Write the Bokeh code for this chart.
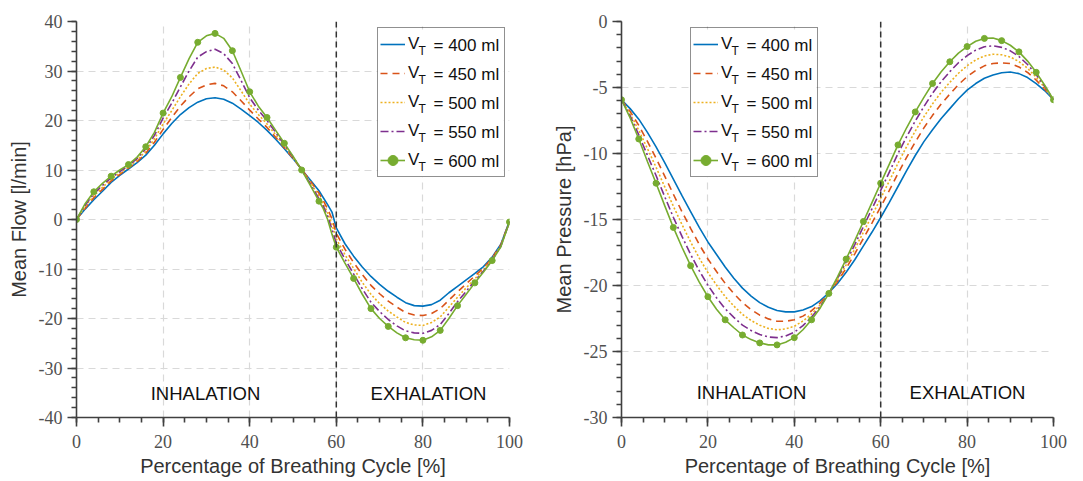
from bokeh.plotting import figure
from bokeh.layouts import row
from bokeh.models import (Range1d, SingleIntervalTicker, Span, Label, Legend,
                          LegendItem, ColumnDataSource, CDSView, IndexFilter,
                          PrintfTickFormatter, BoxAnnotation)
from bokeh.embed import file_html
from bokeh.resources import INLINE

# ---------------- data ----------------
volumes = ["400", "450", "500", "550", "600"]
phase_labels = ["INHALATION", "EXHALATION"]

cycle_flow = list(range(0, 57, 2)) + [57, 58, 59] + list(range(60, 101, 2))

flow_400 = [0, 2.1, 4.0, 5.7, 7.5, 8.9, 10.2, 11.5, 13.0, 15.0, 17.3, 19.4, 21.2, 22.6, 23.7,
            24.4, 24.6, 24.3, 23.5, 22.3, 21.0, 19.6, 18.0, 16.2, 14.3, 12.3, 10.1, 8.0, 5.8,
            4.4, 3.0, 1.5,
            -1.7, -4.9, -7.4, -9.6, -11.5, -13.1, -14.5, -15.7, -16.8, -17.4, -17.5, -17.2,
            -16.3, -14.8, -13.5, -12.2, -10.9, -9.5, -7.6, -5.0, -0.3]
flow_450 = [0, 2.3, 4.4, 6.1, 7.8, 9.1, 10.4, 11.7, 13.4, 15.6, 18.2, 20.6, 22.9, 24.8, 26.4,
            27.2, 27.5, 27.0, 25.8, 24.0, 22.1, 20.3, 18.6, 16.6, 14.5, 12.4, 10.1, 7.8, 5.3,
            3.8, 2.1, 0.15,
            -2.8, -6.0, -8.7, -11.1, -13.3, -15.0, -16.5, -17.7, -18.8, -19.3, -19.4, -19.0,
            -18.0, -16.3, -14.6, -13.0, -11.4, -9.8, -7.8, -5.1, -0.36]
flow_500 = [0, 2.6, 4.8, 6.5, 8.1, 9.4, 10.6, 12.0, 13.8, 16.3, 19.3, 22.0, 24.8, 27.4, 29.5,
            30.5, 30.8, 30.2, 28.6, 26.0, 23.3, 21.2, 19.3, 17.1, 14.8, 12.5, 10.05, 7.5, 4.8,
            3.2, 1.35, -1.0,
            -3.9, -7.1, -9.9, -12.7, -15.1, -17.0, -18.5, -19.7, -20.8, -21.3, -21.4, -20.8,
            -19.7, -17.7, -15.7, -13.8, -12.0, -10.1, -8.0, -5.3, -0.41]
flow_550 = [0, 2.9, 5.2, 6.9, 8.4, 9.7, 10.9, 12.3, 14.3, 17.0, 20.5, 23.5, 26.8, 30.0, 32.8,
            33.9, 34.4, 33.5, 31.5, 28.1, 24.6, 22.1, 20.0, 17.6, 15.1, 12.7, 10.0, 7.2, 4.2,
            2.7, 0.7, -2.0,
            -4.8, -8.0, -11.0, -14.0, -16.7, -18.6, -20.2, -21.5, -22.5, -22.9, -23.0, -22.4,
            -21.2, -19.0, -16.6, -14.5, -12.4, -10.4, -8.2, -5.4, -0.46]
flow_600 = [0, 3.2, 5.6, 7.3, 8.75, 10.0, 11.1, 12.6, 14.7, 17.6, 21.5, 24.8, 28.7, 32.5, 35.8,
            37.1, 37.6, 36.6, 34.1, 30.0, 25.8, 22.9, 20.6, 18.0, 15.4, 12.8, 10.0, 6.9, 3.7,
            2.2, 0.0, -3.0,
            -5.6, -8.8, -11.9, -15.1, -18.0, -20.0, -21.6, -22.9, -23.9, -24.3, -24.4, -23.7,
            -22.4, -20.0, -17.4, -15.1, -12.8, -10.6, -8.3, -5.5, -0.5]

cycle_pressure = list(range(0, 101, 2))

pressure_400 = [-5.93, -6.6, -7.4, -8.4, -9.5, -10.7, -11.95, -13.2, -14.4, -15.6, -16.7, -17.65,
                -18.6, -19.45, -20.2, -20.8, -21.3, -21.65, -21.9, -22.0, -22.0, -21.85, -21.6,
                -21.15, -20.55, -19.85, -19.0, -18.05, -17.0, -15.95, -14.85, -13.7, -12.5,
                -11.3, -10.15, -9.1, -8.2, -7.35, -6.6, -5.85, -5.2, -4.7, -4.3, -4.05, -3.88,
                -3.82, -3.95, -4.25, -4.7, -5.25, -5.93]
pressure_450 = [-5.93, -6.82, -7.87, -9.08, -10.35, -11.71, -13.08, -14.41, -15.67, -16.89,
                -17.99, -18.94, -19.84, -20.61, -21.3, -21.82, -22.25, -22.53, -22.71, -22.71,
                -22.6, -22.32, -21.91, -21.32, -20.57, -19.69, -18.69, -17.6, -16.43, -15.25,
                -14.04, -12.8, -11.52, -10.29, -9.13, -8.06, -7.11, -6.25, -5.5, -4.78, -4.18,
                -3.71, -3.36, -3.18, -3.13, -3.19, -3.44, -3.86, -4.44, -5.13, -5.93]
pressure_500 = [-5.93, -6.99, -8.24, -9.63, -11.04, -12.52, -13.99, -15.38, -16.7, -17.92,
                -19.02, -19.97, -20.84, -21.55, -22.19, -22.65, -23.01, -23.25, -23.36, -23.29,
                -23.09, -22.69, -22.16, -21.46, -20.58, -19.57, -18.44, -17.24, -15.96, -14.69,
                -13.39, -12.08, -10.74, -9.48, -8.3, -7.22, -6.24, -5.36, -4.61, -3.92, -3.35,
                -2.91, -2.61, -2.48, -2.52, -2.69, -3.03, -3.55, -4.22, -5.03, -5.93]
pressure_550 = [-5.93, -7.15, -8.59, -10.14, -11.67, -13.27, -14.83, -16.28, -17.64, -18.88,
                -19.98, -20.93, -21.76, -22.41, -23.0, -23.41, -23.71, -23.9, -23.95, -23.82,
                -23.54, -23.04, -22.39, -21.58, -20.59, -19.45, -18.21, -16.9, -15.54, -14.17,
                -12.8, -11.41, -10.01, -8.73, -7.54, -6.45, -5.43, -4.55, -3.8, -3.12, -2.59,
                -2.17, -1.91, -1.84, -1.96, -2.22, -2.65, -3.26, -4.03, -4.93, -5.93]
pressure_600 = [-5.93, -7.3, -8.9, -10.6, -12.25, -13.95, -15.6, -17.1, -18.5, -19.75, -20.85,
                -21.8, -22.6, -23.2, -23.75, -24.1, -24.35, -24.5, -24.5, -24.3, -23.95, -23.35,
                -22.6, -21.7, -20.6, -19.35, -18.0, -16.6, -15.15, -13.7, -12.25, -10.8, -9.35,
                -8.05, -6.85, -5.75, -4.7, -3.8, -3.05, -2.4, -1.9, -1.5, -1.28, -1.25, -1.45,
                -1.8, -2.3, -3.0, -3.85, -4.85, -5.93]

# ---------------- styling ----------------
COLORS = ["#0072BD", "#D95319", "#EDB120", "#7E2F8E", "#77AC30"]
DASHES = ["solid", "7 5", "2 2", "8 3 2 3", "solid"]
SANS = "Liberation Sans"
SERIF = "Liberation Serif"
AXIS_COL = "#404040"
FRAME_H = 396
LEG_W = 126
LEG_H = 148


def make_plot(x, ys, y_lo, y_hi, y_step, y_label, left_border, right_border, frame_w,
              legend_left, phase_y, phase_x):
    p = figure(frame_width=frame_w, frame_height=FRAME_H,
               x_range=Range1d(0, 100), y_range=Range1d(y_lo, y_hi),
               output_backend="svg", toolbar_location=None,
               min_border_left=left_border, min_border_right=right_border,
               min_border_top=21, min_border_bottom=63,
               outline_line_color=None, background_fill_color="white",
               border_fill_color="white")
    xt = SingleIntervalTicker(interval=20, num_minor_ticks=4)
    yt = SingleIntervalTicker(interval=y_step, num_minor_ticks=5)
    p.xaxis.ticker = xt
    p.yaxis.ticker = yt
    p.xaxis.formatter = PrintfTickFormatter(format="%d")
    p.yaxis.formatter = PrintfTickFormatter(format="%d")
    p.xgrid.ticker = xt
    p.ygrid.ticker = yt
    for g in (p.xgrid, p.ygrid):
        g.grid_line_color = "#d9d9d9"
        g.grid_line_dash = "7 5"
        g.grid_line_width = 1.2
    for ax in (p.xaxis, p.yaxis):
        ax.axis_line_color = AXIS_COL
        ax.axis_line_width = 1.6
        ax.major_tick_line_color = AXIS_COL
        ax.minor_tick_line_color = AXIS_COL
        ax.major_tick_line_width = 1.6
        ax.minor_tick_line_width = 1.6
        ax.major_tick_in = 0
        ax.major_tick_out = 9
        ax.minor_tick_in = 0
        ax.minor_tick_out = 5
        ax.major_label_text_font = SERIF
        ax.major_label_text_font_size = "18px"
        ax.major_label_text_color = "#505050"
        ax.axis_label_text_font = SANS
        ax.axis_label_text_font_size = "20px"
        ax.axis_label_text_font_style = "normal"
        ax.axis_label_text_color = "#333333"
    p.xaxis.major_label_standoff = 8
    p.xaxis.axis_label_standoff = 4
    p.yaxis.major_label_standoff = 5
    p.yaxis.axis_label_standoff = 6
    p.xaxis.axis_label = "Percentage of Breathing Cycle [%]"
    p.yaxis.axis_label = y_label

    p.add_layout(Span(location=60, dimension="height", line_color="#333333",
                      line_dash="6 4", line_width=1.5))

    items = []
    for i, (vol, yv) in enumerate(zip(volumes, ys)):
        src = ColumnDataSource(dict(x=x, y=yv))
        r = p.line("x", "y", source=src, line_color=COLORS[i], line_width=1.6,
                   line_dash=DASHES[i])
        rends = [r]
        if i == 4:
            idx = [k for k, xv in enumerate(x) if xv % 4 == 0]
            s = p.scatter("x", "y", source=src, view=CDSView(filter=IndexFilter(idx)),
                          size=6, fill_color=COLORS[i], line_color=COLORS[i])
            rends.append(s)
        items.append(LegendItem(label="V", renderers=rends))

    # pixel -> data conversion for the legend box and text pieces
    ux = 100.0 / frame_w
    uy = (y_hi - y_lo) / FRAME_H
    p.add_layout(BoxAnnotation(left=legend_left * ux, right=(legend_left + LEG_W) * ux,
                               top=y_hi - 8 * uy, bottom=y_hi - (8 + LEG_H) * uy,
                               fill_color="white", fill_alpha=1.0, line_color=None))

    legend = Legend(items=items, location=(legend_left, FRAME_H - 8 - LEG_H),
                    padding=2, spacing=1, margin=0,
                    glyph_width=25, glyph_height=28, label_height=28,
                    label_width=94, label_standoff=3,
                    border_line_color="#222222", border_line_width=1.5,
                    background_fill_alpha=0.0,
                    label_text_font=SANS, label_text_font_size="17px",
                    label_text_color="#111111")
    p.add_layout(legend)

    for i, vol in enumerate(volumes):
        cy = 8 + 2 + 14 + 29 * i
        p.add_layout(Label(x=(legend_left + 41) * ux, y=y_hi - (cy + 5) * uy,
                           text="T", text_font=SANS, text_font_size="12px",
                           text_color="#111111", text_baseline="middle"))
        p.add_layout(Label(x=(legend_left + 56) * ux, y=y_hi - cy * uy,
                           text="= " + vol + " ml", text_font=SANS, text_font_size="17px",
                           text_color="#111111", text_baseline="middle"))

    for txt, px in zip(phase_labels, phase_x):
        p.add_layout(Label(x=px, y=phase_y, text=txt, text_font=SANS,
                           text_font_size="18.5px", text_color="#111111",
                           text_align="center", text_baseline="middle"))
    return p


p1 = make_plot(cycle_flow, [flow_400, flow_450, flow_500, flow_550, flow_600],
               -40, 40, 10, "Mean Flow [l/min]", 76, 39, 433, 301, -35.2, [29.8, 81.3])
p2 = make_plot(cycle_pressure, [pressure_400, pressure_450, pressure_500, pressure_550,
                                pressure_600],
               -30, 0, 5, "Mean Pressure [hPa]", 73, 28, 432, 69, -28.1, [30.1, 80.1])

layout = row(p1, p2, spacing=0)
open("out.html", "w").write(file_html(layout, INLINE))
